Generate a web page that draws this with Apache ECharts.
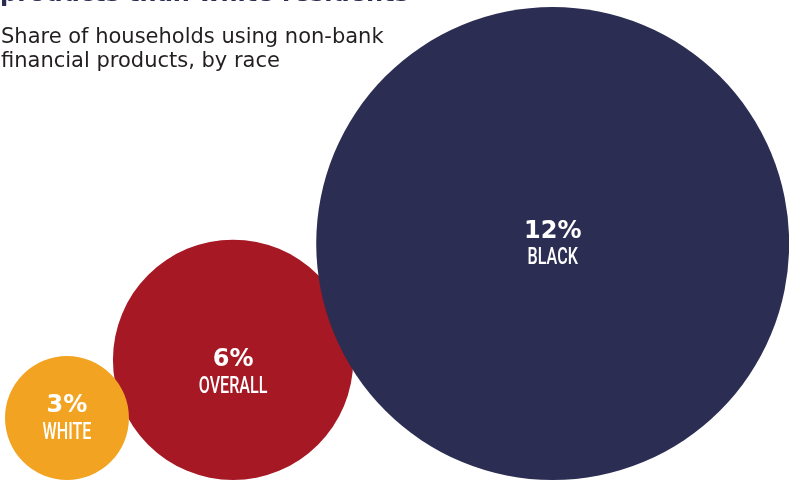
<!DOCTYPE html>
<html>
<head>
<meta charset="utf-8">
<script src="https://cdn.jsdelivr.net/npm/echarts@6/dist/echarts.min.js"></script>
<style>
html,body{margin:0;padding:0;background:#fff;}
#chart{width:789px;height:481px;}
</style>
</head>
<body>
<div id="chart"></div>
<script>
// ---- data ----
const categories = ['White', 'Overall', 'Black'];
const categoryLabels = ['WHITE', 'OVERALL', 'BLACK'];
const shares = [3, 6, 12];            // % of households using non-bank financial products
const titleText = 'products than white residents';
const subtitleText = 'Share of households using non-bank\nfinancial products, by race';

// ---- styles ----
const colors = ['#F2A321', '#A51824', '#2B2D52'];
const zLevels = [3, 2, 4];
const labelShiftY = [0, 12, 0];       // px shift of the text block inside a bubble
const W = 789, H = 481;
const rBase = 3.8, rPerPct = 19.39;   // bubble radius (px) = rBase + rPerPct * share
const firstLeft = 5;                  // left edge of first bubble
const overlaps = [16, 37];            // overlap between neighbouring bubbles
const groundY = 1;                    // bubbles sit on a common baseline

const radii = shares.map(v => rBase + rPerPct * v);
const centersX = [];
radii.forEach((r, i) => {
  if (i === 0) centersX.push(firstLeft + r);
  else centersX.push(centersX[i - 1] + radii[i - 1] + r - overlaps[i - 1]);
});

const bubbleSeries = categories.map((name, i) => ({
  type: 'scatter',
  name: name,
  z: zLevels[i],
  silent: true,
  symbol: 'circle',
  symbolSize: 2 * radii[i],
  itemStyle: { color: colors[i], opacity: 1 },
  data: [[centersX[i], groundY + radii[i], shares[i]]]
}));

const labelSeries = {
  type: 'custom',
  z: 10,
  silent: true,
  data: categories.map((c, i) => [centersX[i], groundY + radii[i], shares[i], i]),
  renderItem: function (params, api) {
    const i = api.value(3);
    const p = api.coord([api.value(0), api.value(1)]);
    const cy = p[1] + labelShiftY[i];
    return {
      type: 'group',
      children: [
        {
          type: 'text', x: p[0], y: cy - 12,
          style: {
            text: api.value(2) + '%', fill: '#fff',
            font: 'bold 24px "DejaVu Sans"', align: 'center', verticalAlign: 'middle'
          }
        },
        {
          type: 'text', x: p[0], y: cy + 15, scaleX: 0.7,
          style: {
            text: categoryLabels[i], fill: '#fff',
            font: '500 23px Roboto', align: 'center', verticalAlign: 'middle'
          }
        }
      ]
    };
  }
};

const chart = echarts.init(document.getElementById('chart'), null, { renderer: 'canvas' });
chart.setOption({
  backgroundColor: '#fff',
  animation: false,
  graphic: [
    {
      type: 'text', x: 0, y: -5.5, z: 20, silent: true,
      style: {
        text: titleText, fill: '#2B2D52',
        font: 'bold 24px "DejaVu Sans"', align: 'left', verticalAlign: 'middle'
      }
    }
  ],
  title: [
    {
      text: subtitleText, left: 1, top: 26, padding: 0,
      textStyle: { fontFamily: 'DejaVu Sans', fontWeight: 'normal', fontSize: 21, lineHeight: 24, color: '#231F20' }
    }
  ],
  grid: { left: 0, right: 0, top: 0, bottom: 0 },
  xAxis: { type: 'value', min: 0, max: W, show: false },
  yAxis: { type: 'value', min: 0, max: H, show: false },
  series: bubbleSeries.concat([labelSeries])
});
</script>
</body>
</html>
